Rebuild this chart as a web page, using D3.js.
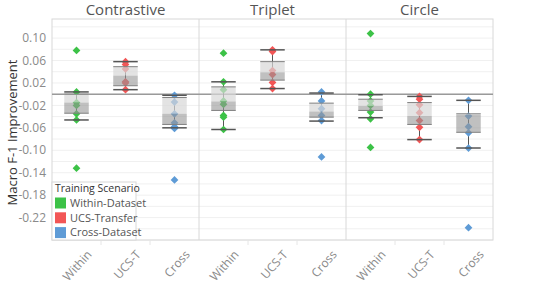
<!DOCTYPE html>
<html>
<head>
<meta charset="utf-8">
<script src="https://cdn.jsdelivr.net/npm/d3@7"></script>
<style>
  body { margin: 0; background: #fff; }
  text { font-family: "Open Sans", "DejaVu Sans", sans-serif; }
</style>
</head>
<body>
<svg id="chart" width="538" height="300"></svg>
<script>
// panels and categories
const methods = ["Contrastive", "Triplet", "Circle"];
const scenarios = ["Within", "UCS-T", "Cross"];
const legendLabels = ["Within-Dataset", "UCS-Transfer", "Cross-Dataset"];
const scenarioColors = ["#3cc247", "#f25656", "#5e9bd6"];
const yTickValues = [0.10, 0.06, 0.02, -0.02, -0.06, -0.10, -0.14, -0.18, -0.22];

// individual runs per scenario (Within, UCS-T, Cross)
const contrastivePoints = [
  [0.078, 0.004, -0.015, -0.020, -0.035, -0.046, -0.132],
  [0.058, 0.053, 0.045, 0.022, 0.020, 0.008],
  [-0.002, -0.014, -0.035, -0.051, -0.058, -0.061, -0.153]
];
const tripletPoints = [
  [0.073, 0.022, 0.008, -0.012, -0.018, -0.038, -0.041, -0.063],
  [0.079, 0.076, 0.042, 0.035, 0.021, 0.010],
  [0.004, -0.012, -0.026, -0.038, -0.047, -0.112]
];
const circlePoints = [
  [0.108, 0.000, -0.012, -0.020, -0.032, -0.044, -0.095],
  [-0.004, -0.009, -0.019, -0.033, -0.047, -0.059, -0.081],
  [-0.011, -0.039, -0.058, -0.069, -0.096, -0.238]
];

// box stats per scenario: [lower whisker, q1, median, q3, upper whisker]
const contrastiveBox = [
  [-0.046, -0.034, -0.015, 0.000, 0.004],
  [0.008, 0.015, 0.033, 0.049, 0.058],
  [-0.060, -0.054, -0.035, -0.006, -0.002]
];
const tripletBox = [
  [-0.063, -0.029, -0.013, 0.013, 0.022],
  [0.010, 0.025, 0.039, 0.058, 0.079],
  [-0.048, -0.041, -0.031, -0.016, 0.002]
];
const circleBox = [
  [-0.042, -0.029, -0.021, -0.009, -0.001],
  [-0.081, -0.054, -0.039, -0.015, -0.004],
  [-0.096, -0.068, -0.037, -0.035, -0.011]
];

const pointsByMethod = [contrastivePoints, tripletPoints, circlePoints];
const boxByMethod = [contrastiveBox, tripletBox, circleBox];

const svg = d3.select("#chart");
const margin = {top: 19, right: 45, bottom: 60, left: 52};
const plotRight = 538 - margin.right;
const plotBottom = 300 - margin.bottom;

const y = d3.scaleLinear().domain([-0.26, 0.134]).range([plotBottom, margin.top]);
const xPanel = d3.scaleBand().domain(methods).range([margin.left, plotRight]);
const xInner = d3.scaleBand().domain(scenarios).range([0, xPanel.bandwidth()]);
const fmt = v => d3.format(".2f")(v).replace("\u2212", "-");

// grid lines every 0.02
const grid = svg.append("g").attr("class", "grid");
grid.selectAll("line")
  .data(d3.range(-0.26, 0.14, 0.02))
  .enter().append("line")
    .attr("x1", margin.left).attr("x2", plotRight)
    .attr("y1", d => y(d)).attr("y2", d => y(d))
    .attr("stroke", "#f0f0f0").attr("stroke-width", 1);

// panel borders
svg.append("rect")
  .attr("x", margin.left).attr("y", margin.top)
  .attr("width", plotRight - margin.left).attr("height", plotBottom - margin.top)
  .attr("fill", "none").attr("stroke", "#d8d8d8");
svg.selectAll(".divider")
  .data(methods.slice(1))
  .enter().append("line")
    .attr("class", "divider")
    .attr("x1", d => xPanel(d)).attr("x2", d => xPanel(d))
    .attr("y1", margin.top).attr("y2", plotBottom)
    .attr("stroke", "#d8d8d8");

// zero line
svg.append("line")
  .attr("x1", margin.left).attr("x2", plotRight)
  .attr("y1", y(0)).attr("y2", y(0))
  .attr("stroke", "#9a9a9a").attr("stroke-width", 1.5);

// y axis labels
svg.append("g").selectAll("text")
  .data(yTickValues)
  .enter().append("text")
    .attr("x", 46).attr("y", d => y(d)).attr("dy", "0.35em")
    .attr("text-anchor", "end")
    .attr("font-size", 12).attr("fill", "#8a8a8a")
    .text(fmt);

svg.append("text")
  .attr("transform", "translate(17," + ((margin.top + plotBottom) / 2 + 3) + ") rotate(-90)")
  .attr("text-anchor", "middle")
  .attr("font-size", 13).attr("fill", "#333")
  .text("Macro F-1 Improvement");

// panel titles
svg.selectAll(".title")
  .data(methods)
  .enter().append("text")
    .attr("class", "title")
    .attr("x", d => xPanel(d) + xPanel.bandwidth() / 2)
    .attr("y", 15)
    .attr("text-anchor", "middle")
    .attr("font-size", 15).attr("fill", "#555")
    .text(d => d);

const diamond = d3.symbol().type(d3.symbolSquare).size(30);
const boxW = xInner.bandwidth() * 0.5;

methods.forEach((m, mi) => {
  const panel = svg.append("g").attr("transform", "translate(" + xPanel(m) + ",0)");

  scenarios.forEach((s, si) => {
    const cx = xInner(s) + xInner.bandwidth() / 2;
    const [lo, q1, med, q3, hi] = boxByMethod[mi][si];
    const g = panel.append("g");

    // whisker stem
    g.append("line")
      .attr("x1", cx).attr("x2", cx)
      .attr("y1", y(hi)).attr("y2", y(lo))
      .attr("stroke", "#555").attr("stroke-width", 1);

    // points
    g.selectAll("path")
      .data(pointsByMethod[mi][si])
      .enter().append("path")
        .attr("d", diamond)
        .attr("transform", d => "translate(" + cx + "," + y(d) + ") rotate(45)")
        .attr("fill", scenarioColors[si]);

    // box halves
    g.append("rect")
      .attr("x", cx - boxW / 2).attr("width", boxW)
      .attr("y", y(q3)).attr("height", y(med) - y(q3))
      .attr("fill", "rgba(215,215,215,0.7)");
    g.append("rect")
      .attr("x", cx - boxW / 2).attr("width", boxW)
      .attr("y", y(med)).attr("height", y(q1) - y(med))
      .attr("fill", "rgba(150,150,150,0.6)");

    // box edges and whisker caps
    g.selectAll(".edge")
      .data([q1, q3])
      .enter().append("line")
        .attr("x1", cx - boxW / 2).attr("x2", cx + boxW / 2)
        .attr("y1", d => y(d)).attr("y2", d => y(d))
        .attr("stroke", "#808080").attr("stroke-width", 1);
    g.selectAll(".cap")
      .data([lo, hi])
      .enter().append("line")
        .attr("x1", cx - boxW / 2).attr("x2", cx + boxW / 2)
        .attr("y1", d => y(d)).attr("y2", d => y(d))
        .attr("stroke", "#555").attr("stroke-width", 1.5);
  });

  // bottom tick separators
  panel.selectAll(".tick")
    .data(scenarios.slice(1))
    .enter().append("line")
      .attr("x1", d => xInner(d)).attr("x2", d => xInner(d))
      .attr("y1", plotBottom).attr("y2", plotBottom + 5)
      .attr("stroke", "#e6e6e6");

  // rotated category labels
  panel.selectAll(".xlabel")
    .data(scenarios)
    .enter().append("text")
      .attr("transform", d => "translate(" + (xInner(d) + xInner.bandwidth() / 2 + 16) + "," + (plotBottom + 15) + ") rotate(-48)")
      .attr("text-anchor", "end")
      .attr("font-size", 12).attr("fill", "#8a8a8a")
      .text(d => d);
});

// legend
const legend = svg.append("g").attr("transform", "translate(" + margin.left + ",182)");
legend.append("rect")
  .attr("x", 0).attr("y", 0).attr("width", 84).attr("height", plotBottom - 182)
  .attr("fill", "#fff").attr("stroke", "#d8d8d8");
legend.append("text")
  .attr("x", 3).attr("y", 10)
  .attr("font-size", 10.5).attr("font-weight", 500).attr("fill", "#333")
  .text("Training Scenario");
const rows = legend.selectAll(".row")
  .data(legendLabels)
  .enter().append("g")
    .attr("transform", (d, i) => "translate(3," + (15.5 + i * 14.8) + ")");
rows.append("rect")
  .attr("width", 11).attr("height", 11)
  .attr("fill", (d, i) => scenarioColors[i]);
rows.append("text")
  .attr("x", 15).attr("y", 5.5).attr("dy", "0.35em")
  .attr("font-size", 11).attr("fill", "#555")
  .text(d => d);
</script>
</body>
</html>
